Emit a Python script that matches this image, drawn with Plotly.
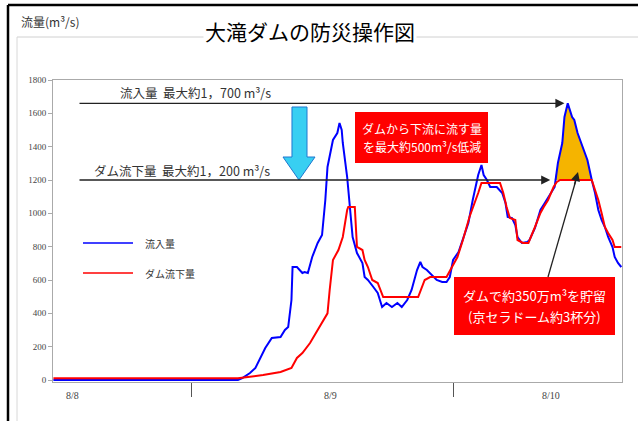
import numpy as np
import plotly.graph_objects as go

# Hours counted from 8/8 00:00
inflow_hours = [11.4, 28.3, 28.7, 29.4, 29.9, 30.6, 30.8, 31.4, 32.2, 32.6, 32.9, 33.2, 33.3, 33.7,
                34.2, 34.4, 34.7, 35.1, 35.6, 36.0, 36.3, 36.5, 37.0, 37.4, 37.6, 37.8, 37.9, 38.3,
                38.6, 38.8, 39.2, 39.7, 39.9, 40.2, 40.7, 41.1, 41.5, 41.9, 42.4, 42.9, 43.3, 43.8,
                44.2, 44.7, 45.0, 45.2, 45.6, 46.1, 46.5, 47.0, 47.4, 47.7, 48.0, 48.5, 48.9, 49.4,
                49.8, 50.3, 50.6, 50.8, 51.1, 51.4, 52.0, 52.5, 52.8, 53.0, 53.4, 53.7, 53.9, 54.3,
                54.8, 55.0, 55.5, 56.0, 56.4, 57.1, 57.3, 57.6, 58.0, 58.2, 58.5, 58.9, 59.1, 59.4,
                59.9, 60.3, 60.7, 61.0, 61.3, 61.6, 61.9, 62.2, 62.6, 62.8, 63.1, 63.4]
inflow = [0, 0, 12, 42, 72, 162, 192, 252, 258, 300, 318, 480, 678, 678,
          642, 648, 642, 738, 822, 870, 1080, 1278, 1440, 1482, 1542, 1500, 1422, 1218,
          1020, 858, 762, 702, 618, 600, 558, 522, 438, 462, 438, 462, 438, 480,
          540, 660, 708, 678, 660, 630, 600, 588, 588, 618, 720, 768, 840, 942,
          1080, 1230, 1290, 1230, 1200, 1158, 1158, 1122, 1062, 978, 972, 930, 858, 822,
          828, 840, 912, 1020, 1062, 1140, 1158, 1302, 1422, 1578, 1660, 1578, 1560, 1482,
          1398, 1320, 1200, 1122, 1020, 960, 918, 858, 798, 738, 702, 678]

outflow_hours = [11.4, 28.3, 30.6, 32.2, 33.2, 33.7, 34.2, 34.9, 35.6, 36.5, 36.7, 37.0, 37.5,
                 37.9, 38.3, 38.4, 39.0, 39.2, 39.7, 39.9, 40.2, 40.6, 41.1, 41.6, 44.8, 45.4,
                 45.9, 47.4, 47.9, 48.4, 48.9, 49.5, 50.3, 50.6, 52.3, 52.6, 52.9, 53.2, 53.7,
                 53.9, 54.4, 54.9, 55.5, 56.0, 56.3, 56.7, 57.2, 57.5, 57.8, 60.7, 61.0, 61.3,
                 61.6, 61.9, 62.2, 62.6, 62.8, 63.4]
outflow = [10, 10, 30, 48, 72, 132, 162, 222, 300, 400, 540, 720, 780,
           858, 1020, 1038, 1038, 798, 780, 720, 678, 600, 582, 498, 498, 600,
           618, 618, 678, 738, 840, 978, 1122, 1182, 1182, 1122, 1038, 972, 960,
           840, 822, 822, 918, 1002, 1038, 1080, 1158, 1188, 1200, 1200, 1140, 1080,
           1002, 918, 882, 840, 798, 798]

y_ticks = [0, 200, 400, 600, 800, 1000, 1200, 1400, 1600, 1800]
day_ticks = [24, 48]
day_labels = ["8/8", "8/9", "8/10"]
series_names = ["流入量", "ダム流下量"]

JP = "Noto Sans CJK JP"
BLUE = "#0000FF"
RED = "#FF0000"

# plot-area geometry (pixels)
L, R, T, B = 53, 622, 80, 382
W, H = 638, 421


def px(x):
    return (x - L) / (R - L)


def py(y):
    return (B - y) / (B - T)


def hx(x):
    # pixel column -> hours
    return 24 + (x - 191) / 10.92


def vy(y):
    # pixel row -> m3/s
    return (380 - y) * 6


fig = go.Figure()

# stored volume: inflow above the 1,200 m3/s release cap around the final peak
h = np.array(inflow_hours)
q = np.array(inflow)
cap = max(outflow)
win = (h >= 57.3) & (h <= 60.7)
fx = list(h[win]) + list(h[win][::-1])
fy = list(np.maximum(q[win], cap)) + [cap] * int(win.sum())
fig.add_trace(go.Scatter(x=fx, y=fy, fill="toself", fillcolor="#F5B400",
                         line=dict(width=0), mode="lines", hoverinfo="skip",
                         showlegend=False))

fig.add_trace(go.Scatter(x=inflow_hours, y=inflow, mode="lines", name=series_names[0],
                         line=dict(color=BLUE, width=2), showlegend=False))
fig.add_trace(go.Scatter(x=outflow_hours, y=outflow, mode="lines", name=series_names[1],
                         line=dict(color=RED, width=2), showlegend=False))

shapes = []
annotations = []

# outer frame
shapes.append(dict(type="line", xref="paper", yref="paper", x0=px(8), x1=px(640), y0=py(5), y1=py(5),
                   line=dict(color="black", width=2.5)))
shapes.append(dict(type="line", xref="paper", yref="paper", x0=px(8), x1=px(8), y0=py(5), y1=py(423),
                   line=dict(color="black", width=2.5)))
shapes.append(dict(type="line", xref="paper", yref="paper", x0=px(17), x1=px(640), y0=py(37), y1=py(37),
                   line=dict(color="#d0d0d0", width=1)))
shapes.append(dict(type="line", xref="paper", yref="paper", x0=px(17), x1=px(17), y0=py(37), y1=py(423),
                   line=dict(color="#d8d8d8", width=1)))

# legend
for i, (c, yy) in enumerate([(BLUE, 243), (RED, 273)]):
    shapes.append(dict(type="line", xref="paper", yref="paper", x0=px(83), x1=px(133),
                       y0=py(yy), y1=py(yy), line=dict(color=c, width=1.5)))
    annotations.append(dict(xref="paper", yref="paper", x=px(143), y=py(yy), text=series_names[i],
                            showarrow=False, xanchor="left", yanchor="middle",
                            font=dict(family=JP, size=10, color="#333")))

# downward cyan arrow
pts = [(292, 107), (307, 107), (307, 157), (315, 157), (299, 180), (283, 157), (292, 157)]
path = "M " + " L ".join(f"{px(a):.4f},{py(b):.4f}" for a, b in pts) + " Z"
shapes.append(dict(type="path", xref="paper", yref="paper", path=path,
                   fillcolor="#38CFF2", line=dict(color="#1E78D0", width=1)))

# red call-out boxes, one annotation per line of text
boxes = [((355, 112, 488, 163), ["ダムから下流に流す量", "を最大約500m³/s低減"], 12),
         ((454, 277, 615, 335), ["ダムで約350万m³を貯留", "(京セラドーム約3杯分)"], 13)]
for (x0, y0, x1, y1), lines, fs in boxes:
    shapes.append(dict(type="rect", xref="paper", yref="paper", x0=px(x0), x1=px(x1),
                       y0=py(y0), y1=py(y1), fillcolor=RED, line=dict(width=0)))
    mid = (y0 + y1) / 2
    step = fs * 0.78
    for k, txt in enumerate(lines):
        annotations.append(dict(xref="paper", yref="paper", x=px((x0 + x1) / 2),
                                y=py(mid + (k - 0.5) * 2 * step), text=txt, showarrow=False,
                                xanchor="center", yanchor="middle",
                                font=dict(family=JP, size=fs, color="white")))

# horizontal reference arrows at the peak inflow and peak release
q_max = max(inflow)
h_qmax = inflow_hours[inflow.index(q_max)]
o_max = max(outflow)
h_omax = outflow_hours[outflow.index(o_max)]
arrow_style = dict(showarrow=True, arrowhead=2, arrowsize=1.4, arrowwidth=1.3,
                   arrowcolor="#222", text="", xref="x", yref="y", axref="x", ayref="y")
annotations.append(dict(x=h_qmax - 0.3, y=q_max, ax=hx(78), ay=q_max, **arrow_style))
annotations.append(dict(x=h_omax - 0.9, y=o_max, ax=hx(78), ay=o_max, **arrow_style))

# pointer from the storage box up to the stored volume
shapes.append(dict(type="line", xref="x", yref="y", x0=hx(548), y0=vy(277), x1=hx(576), y1=vy(180),
                   line=dict(color="#222", width=1.3)))
annotations.append(dict(x=hx(578), y=vy(172), ax=hx(574), ay=vy(186), **arrow_style))

annotations.append(dict(xref="paper", yref="paper", x=px(118), y=py(92),
                        text="流入量  最大約1，700 m³/s", showarrow=False,
                        xanchor="left", yanchor="middle", font=dict(family=JP, size=12.5, color="#333")))
annotations.append(dict(xref="paper", yref="paper", x=px(92), y=py(170),
                        text="ダム流下量  最大約1，200 m³/s", showarrow=False,
                        xanchor="left", yanchor="middle", font=dict(family=JP, size=12.5, color="#333")))

# titles
annotations.append(dict(xref="paper", yref="paper", x=px(310), y=py(31), text="大滝ダムの防災操作図",
                        showarrow=False, xanchor="center", yanchor="middle", bgcolor="white",
                        font=dict(family=JP, size=21, color="black")))
annotations.append(dict(xref="paper", yref="paper", x=px(19), y=py(22), text="流量(m³/s)",
                        showarrow=False, xanchor="left", yanchor="middle",
                        font=dict(family=JP, size=12, color="#333")))

# day labels
for lab, xx in zip(day_labels, [72, 330, 551]):
    annotations.append(dict(xref="paper", yref="paper", x=px(xx), y=py(395), text=lab,
                            showarrow=False, xanchor="center", yanchor="middle",
                            font=dict(family="Liberation Serif", size=10, color="#444")))

fig.update_layout(
    width=W, height=H,
    margin=dict(l=L, r=W - R, t=T, b=H - B, autoexpand=False),
    paper_bgcolor="white", plot_bgcolor="white",
    shapes=shapes, annotations=annotations,
    xaxis=dict(range=[hx(L), hx(R)], tickvals=day_ticks, ticktext=["", ""], ticks="outside",
               ticklen=14, tickcolor="#555", tickwidth=1, showgrid=False, zeroline=False,
               showline=True, linecolor="#aaa", mirror=True),
    yaxis=dict(range=[-12, 1800], tickvals=y_ticks, ticks="outside", ticklen=4, tickcolor="#aaa",
               showgrid=False, zeroline=False, showline=True, linecolor="#aaa", mirror=True,
               tickfont=dict(family="Liberation Serif", size=9, color="#444")),
)

fig.write_html("out.html")
